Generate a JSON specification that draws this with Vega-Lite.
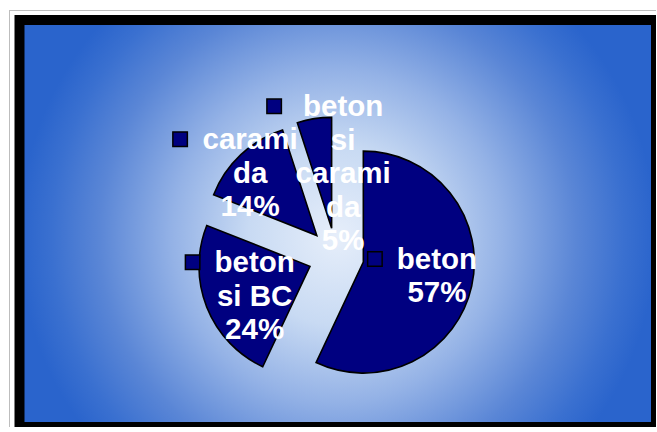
{
  "$schema": "https://vega.github.io/schema/vega-lite/v6.json",
  "width": 636.5,
  "height": 407,
  "autosize": {"type": "none"},
  "padding": {"left": 19.5, "top": 20, "right": 0, "bottom": 0},
  "background": "#ffffff",
  "config": {"view": {"stroke": null}},
  "datasets": {
    "slices": [
      {"cat": "beton", "value": 57, "label": "beton\n57%"},
      {"cat": "beton si BC", "value": 24, "label": "beton\nsi BC\n24%"},
      {"cat": "carami da", "value": 14, "label": "carami\nda\n14%"},
      {"cat": "beton si carami da", "value": 5, "label": "beton\nsi\ncarami\nda\n5%"}
    ],
    "frame": [{"name": "frame"}]
  },
  "layer": [
    {
      "data": {"name": "frame"},
      "mark": {
        "type": "rect",
        "clip": false,
        "x": -10, "y": -9.5,
        "x2": {"expr": "width + 20"}, "y2": {"expr": "height + 20"},
        "fill": null,
        "stroke": "#7a7a7a",
        "strokeWidth": 1,
        "strokeDash": [1, 1]
      },
      "encoding": {}
    },
    {
      "data": {"name": "frame"},
      "mark": {
        "type": "rect",
        "clip": false,
        "x": 0, "y": 0,
        "x2": {"expr": "width"}, "y2": {"expr": "height"},
        "stroke": "#000000",
        "strokeWidth": 10,
        "fill": {
          "gradient": "radial",
          "x1": 0.5, "y1": 0.52, "r1": 0,
          "x2": 0.5, "y2": 0.52, "r2": 0.5,
          "stops": [
            {"offset": 0, "color": "#e6eefa"},
            {"offset": 0.28, "color": "#c8daf3"},
            {"offset": 0.52, "color": "#94b2e6"},
            {"offset": 0.75, "color": "#5a86d6"},
            {"offset": 0.9, "color": "#3a70d0"},
            {"offset": 1, "color": "#2a64cc"}
          ]
        }
      },
      "encoding": {}
    },
    {
      "data": {"name": "slices"},
      "transform": [
        {"stack": "value", "groupby": [], "sort": [{"field": "value", "order": "descending"}], "as": ["v0", "v1"]}
      ],
      "layer": [
        {
          "mark": {
            "type": "arc",
            "outerRadius": 111,
            "fill": "#000080",
            "stroke": "#000000",
            "strokeWidth": 1.6,
            "x": {"expr": "width/2 - 1.75 + 28*sin(PI*(datum.v0+datum.v1)/100)"},
            "y": {"expr": "height/2 + 32.5 - 28*cos(PI*(datum.v0+datum.v1)/100)"}
          },
          "encoding": {
            "theta": {"field": "v0", "type": "quantitative", "scale": {"domain": [0, 100]}},
            "theta2": {"field": "v1"}
          }
        },
        {
          "mark": {
            "type": "text",
            "font": "Liberation Sans",
            "fontWeight": "bold",
            "fontSize": 29.5,
            "lineHeight": 33.5,
            "lineBreak": "\n",
            "color": "#ffffff",
            "align": "center",
            "baseline": "middle",
            "x": {"expr": "width/2 - 1.75 + (datum.cat==='beton'?103:datum.cat==='beton si BC'?91:datum.cat==='carami da'?119:82)*sin(PI*(datum.v0+datum.v1)/100 + (datum.cat==='beton'?-1:datum.cat==='beton si BC'?-5:datum.cat==='carami da'?-3:14)*PI/180)"},
            "y": {"expr": "height/2 + 32.5 - (datum.cat==='beton'?103:datum.cat==='beton si BC'?91:datum.cat==='carami da'?119:82)*cos(PI*(datum.v0+datum.v1)/100 + (datum.cat==='beton'?-1:datum.cat==='beton si BC'?-5:datum.cat==='carami da'?-3:14)*PI/180) - (length(split(datum.label,'\\n'))-1)*16.75"}
          },
          "encoding": {
            "text": {"field": "label", "type": "nominal"}
          }
        },
        {
          "mark": {
            "type": "point",
            "shape": "square",
            "filled": true,
            "size": 210,
            "fill": "#000080",
            "stroke": "#000000",
            "strokeWidth": 1.5,
            "opacity": 1,
            "x": {"expr": "width/2 - 1.75 + (datum.cat==='beton'?103:datum.cat==='beton si BC'?91:datum.cat==='carami da'?119:82)*sin(PI*(datum.v0+datum.v1)/100 + (datum.cat==='beton'?-1:datum.cat==='beton si BC'?-5:datum.cat==='carami da'?-3:14)*PI/180) + (datum.cat==='carami da'?-70:datum.cat==='beton si carami da'?-69:-62)"},
            "y": {"expr": "height/2 + 32.5 - (datum.cat==='beton'?103:datum.cat==='beton si BC'?91:datum.cat==='carami da'?119:82)*cos(PI*(datum.v0+datum.v1)/100 + (datum.cat==='beton'?-1:datum.cat==='beton si BC'?-5:datum.cat==='carami da'?-3:14)*PI/180) - (length(split(datum.label,'\\n'))-1)*16.75 - 1"}
          },
          "encoding": {}
        }
      ]
    }
  ]
}
